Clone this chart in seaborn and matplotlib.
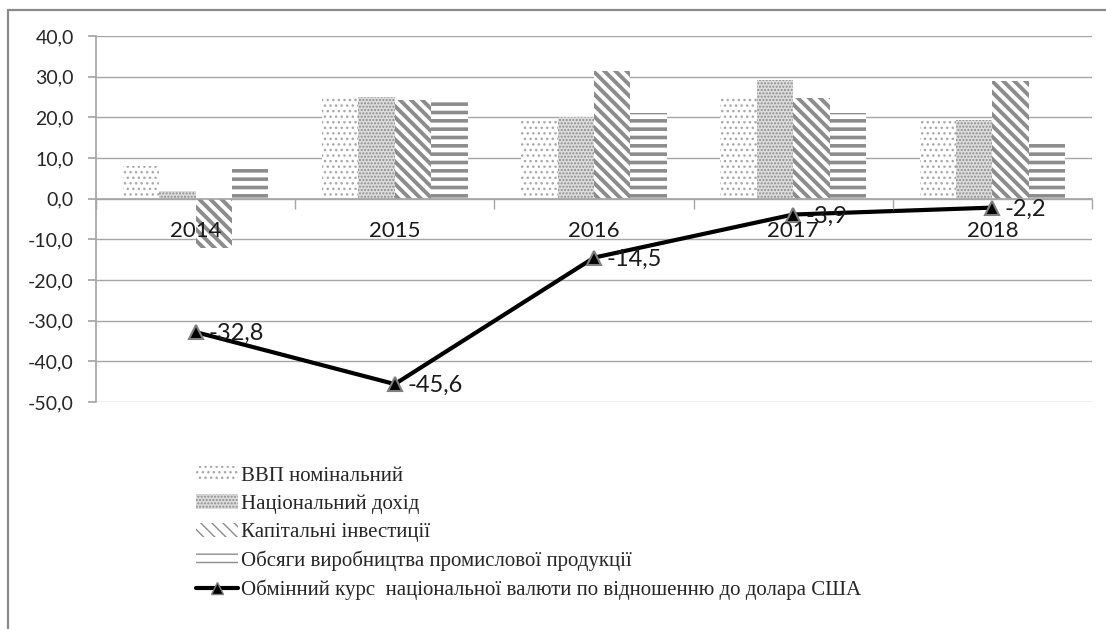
import numpy as np
import pandas as pd
import matplotlib
matplotlib.use("Agg")
import matplotlib.pyplot as plt
import seaborn as sns
from matplotlib.patches import Patch, Rectangle
from matplotlib.lines import Line2D
from matplotlib.ticker import FuncFormatter, FixedLocator

years = ["2014", "2015", "2016", "2017", "2018"]
series_names = ["ВВП номінальний", "Національний дохід", "Капітальні інвестиції",
                "Обсяги виробництва промислової продукції"]
gdp = [8.1, 25.1, 19.6, 25.1, 19.4]
income = [1.9, 25.1, 20.0, 29.2, 19.4]
investment = [-12.1, 24.3, 31.5, 24.8, 28.9]
industry = [7.3, 24.3, 21.0, 21.0, 14.1]
line_name = "Обмінний курс  національної валюти по відношенню до долара США"
exchange = [-32.8, -45.6, -14.5, -3.9, -2.2]

sns.set_theme(style="white")
plt.rcParams["font.family"] = ["Lato", "DejaVu Sans"]

# long table for the bars
bars = pd.DataFrame({
    "year": years * 4,
    "series": np.repeat(series_names, 5),
    "value": gdp + income + investment + industry,
})
line_df = pd.DataFrame({"year": years, "rate": exchange})

# fill style per series: face, hatch colour, hatch, hatch width
styles = [
    ("white", "#a8a8a8", "...", 1.0),
    ("#dcdcdc", "#8c8c8c", ".....", 1.0),
    ("white", "#8c8c8c", "\\\\\\", 2.8),
    ("white", "#8c8c8c", "--", 2.6),
]

fig = plt.figure(figsize=(11.06, 6.29), dpi=100)
ax = fig.add_axes([96 / 1106, 1 - 402 / 629, (1092 - 96) / 1106, (402 - 36) / 629])

sns.barplot(data=bars, x="year", y="value", hue="series", order=years,
            hue_order=series_names, width=0.73, ax=ax, legend=False)

for i, bc in enumerate(ax.containers):
    face, hc, hatch, hlw = styles[i]
    for p in bc.patches:
        p.set_facecolor(face)
        p.set_edgecolor(hc)
        p.set_linewidth(0)
        p.set_hatch(hatch)
        if hasattr(p, "set_hatch_linewidth"):
            p.set_hatch_linewidth(hlw)
        else:
            p._hatch_linewidth = hlw

sns.pointplot(data=line_df, x="year", y="rate", order=years, color="black",
              marker="^", markersize=10, linewidth=3, errorbar=None,
              markeredgecolor="#7f7f7f", markeredgewidth=1.5, ax=ax)

for i, v in enumerate(exchange):
    ax.annotate(f"{v:.1f}".replace(".", ","), (i, v), xytext=(9, -1),
                textcoords="offset points", va="center", ha="left",
                fontsize=17, color="#1a1a1a", zorder=4)

ax.set_xlim(-0.5, 4.5)
ax.set_ylim(-50, 40)
ax.set_yticks(np.arange(-50, 41, 10))
ax.yaxis.set_major_formatter(FuncFormatter(lambda v, p: f"{v:.1f}".replace(".", ",")))
ax.grid(axis="y", color="#a6a6a6", linewidth=1)
ax.set_axisbelow(True)
# year labels sit over the bars, as in the original
ax.xaxis.set_zorder(2.5)
ax.set_xlabel("")
ax.set_ylabel("")

for s in ["top", "right"]:
    ax.spines[s].set_visible(False)
ax.spines["left"].set_color("#a6a6a6")
ax.spines["bottom"].set_color("#a6a6a6")
ax.spines["bottom"].set_position(("data", 0))

ax.tick_params(axis="y", length=6, color="#a6a6a6", labelsize=14,
               labelcolor="#262626", pad=10, direction="out", left=True)
ax.tick_params(axis="x", which="major", length=0, pad=16, labelsize=16,
               labelcolor="#1a1a1a", bottom=True)
ax.xaxis.set_minor_locator(FixedLocator(np.arange(-0.5, 4.6, 1)))
ax.tick_params(axis="x", which="minor", length=7, color="#a6a6a6",
               direction="out", bottom=True)

# legend at the bottom
handles = []
for face, hc, hatch, hlw in styles:
    h = Patch(facecolor=face, edgecolor=hc, hatch=hatch, linewidth=0)
    if hasattr(h, "set_hatch_linewidth"):
        h.set_hatch_linewidth(hlw)
    else:
        h._hatch_linewidth = hlw
    handles.append(h)
handles.append(Line2D([], [], color="black", linewidth=3, marker="^",
                      markersize=9, markeredgecolor="#7f7f7f"))
fig.legend(handles, series_names + [line_name], loc="upper left",
           bbox_to_anchor=(186 / 1106, 1 - 456 / 629), frameon=False,
           prop={"family": "Liberation Serif", "size": 15},
           labelspacing=0.4, handlelength=2.0, handletextpad=0.15,
           handleheight=0.72, borderpad=0)

# outer frame of the chart area
fig.add_artist(Rectangle((8 / 1106, -0.1), 1.2, 1.1 - 10 / 629,
                         transform=fig.transFigure, fill=False,
                         edgecolor="#8a8a8a", linewidth=1.6))

fig.savefig("out.png", dpi=100)
